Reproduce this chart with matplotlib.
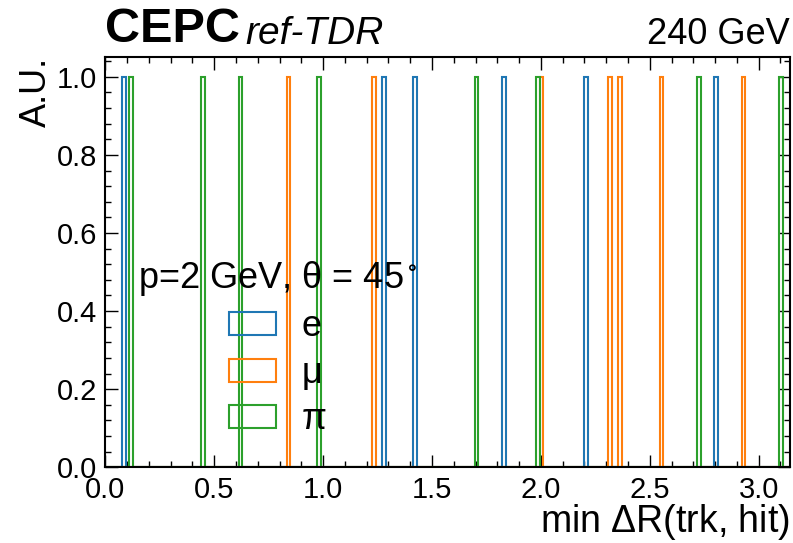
#!/usr/bin/env python3
"""min dR(trk, hit) for single particles, CEPC ref-TDR style."""

import numpy as np
import matplotlib
matplotlib.use("Agg")
import matplotlib.pyplot as plt
from matplotlib.ticker import MultipleLocator

plt.rcParams["font.family"] = ["Liberation Sans", "DejaVu Sans"]
plt.rcParams["mathtext.fontset"] = "custom"
plt.rcParams["mathtext.rm"] = "Liberation Sans"
plt.rcParams["mathtext.it"] = "Liberation Sans:italic"
plt.rcParams["mathtext.default"] = "regular"

# min dR per event, one entry per particle type
dr_e = [0.087, 1.279, 1.420, 1.827, 2.203, 2.800]
dr_mu = [0.840, 1.230, 2.001, 2.313, 2.361, 2.547, 2.925]
dr_pi = [0.118, 0.450, 0.621, 0.982, 1.701, 1.984, 2.719, 3.095]

labels = ["e", "μ", "π"]
colors = ["#1f77b4", "#ff7f0e", "#2ca02c"]

bins = np.linspace(0, np.pi, 201)

fig = plt.figure(figsize=(7.93, 5.43), dpi=100)
ax = fig.add_axes([0.1328, 0.1394, 0.8628, 0.7551])

for vals, lab, col in zip([dr_e, dr_mu, dr_pi], labels, colors):
    ax.hist(vals, bins=bins, histtype="step", color=col, linewidth=1.5, label=lab)

ax.set_xlim(0, np.pi)
ax.set_ylim(0, 1.05)

ax.xaxis.set_major_locator(MultipleLocator(0.5))
ax.xaxis.set_minor_locator(MultipleLocator(0.1))
ax.yaxis.set_major_locator(MultipleLocator(0.2))
ax.yaxis.set_minor_locator(MultipleLocator(0.04))
ax.tick_params(which="both", direction="in", top=True, right=True, labelsize=21, width=1.0)
ax.tick_params(which="major", length=9, pad=6)
ax.tick_params(which="minor", length=4.5)
for sp in ax.spines.values():
    sp.set_linewidth(1.5)

ax.set_xlabel("min $\\Delta$R(trk, hit)", fontsize=27, ha="right", x=1.0, labelpad=-1.5)
ax.set_ylabel("A.U.", fontsize=26, ha="right", y=1.0, labelpad=2)

ax.text(0.0, 1.012, "CEPC", transform=ax.transAxes, fontsize=35, fontweight="bold",
        ha="left", va="bottom")
ax.text(0.204, 1.012, "ref-TDR", transform=ax.transAxes, fontsize=28, style="italic",
        ha="left", va="bottom")
ax.text(1.0, 1.012, "240 GeV", transform=ax.transAxes, fontsize=26,
        ha="right", va="bottom")

leg = ax.legend(title="p=2 GeV, $\\theta$ = 45$^\\circ$", fontsize=26, title_fontsize=26,
                loc="upper left", bbox_to_anchor=(0.0, 0.588), frameon=False,
                handlelength=1.3, handleheight=0.61, handletextpad=0.72,
                labelspacing=0.32)

fig.savefig("out.png", dpi=100)
